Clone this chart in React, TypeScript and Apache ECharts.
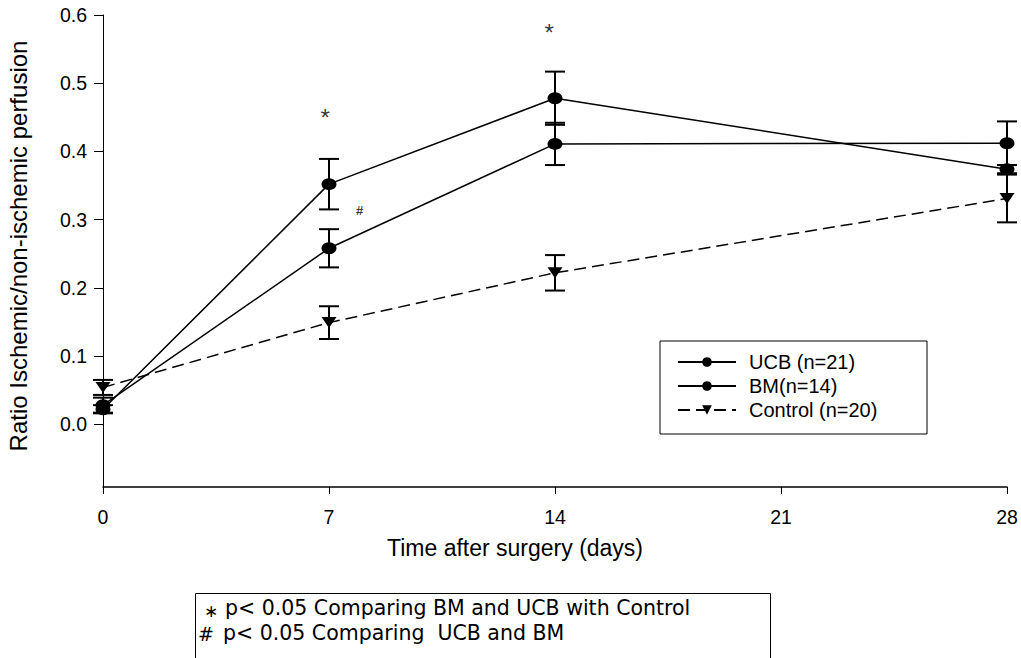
import React, { useEffect, useRef } from "react";
import * as echarts from "echarts";

const days = [0, 7, 14, 28];
const ucbMean = [0.022, 0.352, 0.478, 0.374];
const ucbErr = [0.006, 0.037, 0.039, 0.006];
const bmMean = [0.028, 0.258, 0.411, 0.412];
const bmErr = [0.011, 0.028, 0.031, 0.032];
const ctrlMean = [0.054, 0.149, 0.222, 0.331];
const ctrlErr = [0.011, 0.024, 0.026, 0.035];

const seriesNames = ["UCB (n=21)", "BM(n=14)", "Control (n=20)"];
const yTicks = [0, 0.1, 0.2, 0.3, 0.4, 0.5, 0.6];

const annotations = [
  { day: 6.88, value: 0.45, text: "*" },
  { day: 13.82, value: 0.575, text: "*" },
  { day: 7.95, value: 0.314, text: "#" },
];

const noteLines = [
  "p< 0.05 Comparing BM and UCB with Control",
  "p< 0.05 Comparing  UCB and BM",
];
const noteMarks = ["\u2217", "#"];

const FONT = "Liberation Sans, Arial, sans-serif";
const NOTE_FONT = "DejaVu Sans, Verdana, sans-serif";

function errData(mean: number[], err: number[]) {
  return days.map((d, i) => [d, mean[i], err[i]]);
}

function errSeries(mean: number[], err: number[]) {
  return {
    type: "custom",
    silent: true,
    z: 1,
    data: errData(mean, err),
    renderItem: (params: any, api: any) => {
      const x = api.value(0);
      const y = api.value(1);
      const e = api.value(2);
      const top = api.coord([x, y + e]);
      const bot = api.coord([x, y - e]);
      const hw = 10;
      const st = { stroke: "#000", lineWidth: 2 };
      return {
        type: "group",
        children: [
          { type: "line", shape: { x1: top[0], y1: top[1], x2: bot[0], y2: bot[1] }, style: st },
          { type: "line", shape: { x1: top[0] - hw, y1: top[1], x2: top[0] + hw, y2: top[1] }, style: st },
          { type: "line", shape: { x1: bot[0] - hw, y1: bot[1], x2: bot[0] + hw, y2: bot[1] }, style: st },
        ],
      };
    },
  };
}

export default function App() {
  const ref = useRef<HTMLDivElement>(null);
  useEffect(() => {
    if (!ref.current) return;
    document.body.style.margin = "0";
    const chart = echarts.init(ref.current, undefined, { renderer: "svg" });
    const lineSeries = (name: string, mean: number[], symbol: string, dashed: boolean, width: number) => ({
      name,
      type: "line",
      z: 3,
      data: days.map((d, i) => [d, mean[i]]),
      symbol,
      symbolSize: symbol === "triangle" ? [15, 11] : [15, 12],
      symbolRotate: symbol === "triangle" ? 180 : 0,
      itemStyle: { color: "#000" },
      lineStyle: { color: "#000", width, type: dashed ? [12, 6] : "solid" },
    });
    chart.setOption({
      animation: false,
      grid: { left: 103, right: 14, top: 15, bottom: 171 },
      legend: {
        orient: "vertical",
        left: 677,
        top: 352,
        itemWidth: 58,
        itemHeight: 12,
        itemGap: 4,
        padding: 0,
        data: seriesNames,
        textStyle: { fontFamily: FONT, fontSize: 20, color: "#000", padding: [0, 0, 0, 8] },
      },
      xAxis: {
        type: "value",
        min: 0,
        max: 28,
        interval: 7,
        splitLine: { show: false },
        axisLine: { onZero: false, lineStyle: { color: "#000", width: 1.5 } },
        axisTick: { length: 7, lineStyle: { color: "#000" } },
        axisLabel: { fontFamily: FONT, fontSize: 19.5, color: "#000", margin: 20 },
      },
      yAxis: {
        type: "value",
        min: -0.092,
        max: 0.6,
        splitLine: { show: false },
        axisLine: { show: true, onZero: false, lineStyle: { color: "#000", width: 1 } },
        axisTick: { show: true, length: 9, customValues: yTicks, lineStyle: { color: "#000" } },
        axisLabel: {
          fontFamily: FONT,
          fontSize: 19.5,
          color: "#000",
          margin: 16,
          customValues: yTicks,
          formatter: (v: number) => v.toFixed(1),
        },
      },
      graphic: [
        {
          type: "text",
          x: 515,
          y: 548,
          style: {
            text: "Time after surgery (days)",
            font: `23px ${FONT}`,
            fill: "#000",
            textAlign: "center",
            textVerticalAlign: "middle",
          },
        },
        {
          type: "text",
          x: 18,
          y: 246,
          rotation: Math.PI / 2,
          style: {
            text: "Ratio Ischemic/non-ischemic perfusion",
            font: `24px ${FONT}`,
            fill: "#000",
            textAlign: "center",
            textVerticalAlign: "middle",
          },
        },
        {
          type: "rect",
          shape: { x: 660, y: 341, width: 267, height: 93 },
          style: { fill: "none", stroke: "#000", lineWidth: 1 },
          z: 0,
        },
        {
          type: "rect",
          shape: { x: 195.5, y: 593.5, width: 575, height: 90 },
          style: { fill: "none", stroke: "#000", lineWidth: 1 },
        },
        ...noteLines.map((t, i) => ({
          type: "text",
          x: i === 0 ? 225 : 223,
          y: 608 + i * 25,
          style: {
            text: t,
            font: `20.5px ${NOTE_FONT}`,
            fill: "#000",
            textAlign: "left",
            textVerticalAlign: "middle",
          },
        })),
        ...noteMarks.map((t, i) => ({
          type: "text",
          x: i === 0 ? 204 : 198,
          y: i === 0 ? 611 : 634,
          style: {
            text: t,
            font: `${i === 0 ? 17 : 19}px ${NOTE_FONT}`,
            fill: "#000",
            textAlign: "left",
            textVerticalAlign: "middle",
          },
        })),
      ],
      series: [
        errSeries(ucbMean, ucbErr),
        errSeries(bmMean, bmErr),
        errSeries(ctrlMean, ctrlErr),
        lineSeries(seriesNames[0], ucbMean, "circle", false, 1.5),
        lineSeries(seriesNames[1], bmMean, "circle", false, 1.5),
        lineSeries(seriesNames[2], ctrlMean, "triangle", true, 1.5),
        {
          type: "scatter",
          silent: true,
          symbolSize: 0,
          data: annotations.map((a) => ({
            value: [a.day, a.value],
            name: a.text,
            label: a.text === "#"
              ? { fontSize: 13, fontWeight: "bold" }
              : { fontSize: 24 },
          })),
          label: {
            show: true,
            position: "inside",
            formatter: "{b}",
            color: "#000",
            fontFamily: FONT,
          },
        },
      ],
    });
    return () => chart.dispose();
  }, []);
  return <div ref={ref} style={{ width: 1021, height: 658 }} />;
}
